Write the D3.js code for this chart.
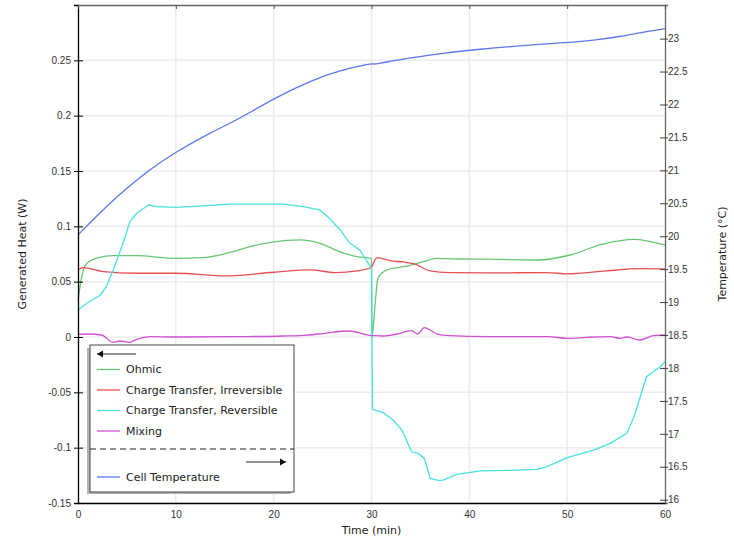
<!DOCTYPE html>
<html>
<head>
<meta charset="utf-8">
<script src="https://cdn.jsdelivr.net/npm/d3@7"></script>
<style>
  body { margin: 0; background: #fff; }
  svg { font-family: "DejaVu Sans", sans-serif; font-size: 11px; }
  .grid line { stroke: #ececec; stroke-width: 1.5; }
  .tick text { fill: #333; }
</style>
</head>
<body>
<script>
// time (min) and values
var ohmicT = [0, 0.35, 0.7, 1.5, 3.6, 6, 10, 12.8, 15.2, 17.6, 20, 22.7, 24.5, 26.8, 28.5, 30, 30.05, 30.4, 30.65, 31.6, 33.6, 35.3, 36.6, 38.7, 42, 47, 50.3, 53.7, 56.8, 60];
var ohmicV = [0.033, 0.053, 0.064, 0.070, 0.0735, 0.0735, 0.071, 0.0717, 0.0757, 0.0817, 0.086, 0.0877, 0.0853, 0.077, 0.0726, 0.0711, 0, 0.033, 0.053, 0.0606, 0.064, 0.068, 0.0711, 0.0705, 0.0703, 0.0696, 0.0741, 0.0841, 0.0883, 0.0832];

var irrevT = [0, 0.55, 2.6, 6, 10, 15.2, 20, 23.7, 26.3, 28.5, 30, 30.25, 30.6, 32, 33.3, 34.4, 36, 38, 42, 48, 50, 54, 57.4, 60];
var irrevV = [0.0606, 0.0627, 0.059, 0.0576, 0.0576, 0.0552, 0.0585, 0.0606, 0.0582, 0.0597, 0.063, 0.068, 0.0717, 0.0687, 0.0678, 0.066, 0.0597, 0.0582, 0.0579, 0.0582, 0.057, 0.0597, 0.0618, 0.0615];

var revT = [0, 0.9, 2.3, 2.9, 3.6, 4.6, 5.3, 6, 7.2, 8, 10, 12.8, 15.5, 18.2, 21, 23, 24.7, 25.7, 26.8, 27.8, 28.8, 30, 30.1, 31.2, 32.2, 33.1, 34.1, 34.8, 35.4, 36, 36.8, 37.3, 38.7, 40.1, 41.1, 44.2, 46.9, 47.9, 50, 52.7, 54.4, 56.1, 56.9, 58.1, 59.5, 60];
var revV = [0.0244, 0.0305, 0.038, 0.0455, 0.0606, 0.0847, 0.104, 0.1118, 0.1194, 0.1178, 0.1172, 0.1184, 0.12, 0.12, 0.12, 0.1178, 0.1148, 0.1073, 0.0967, 0.0847, 0.0787, 0.0621, -0.0654, -0.0684, -0.075, -0.084, -0.1037, -0.1052, -0.1097, -0.1278, -0.1296, -0.1293, -0.1242, -0.1224, -0.1209, -0.1206, -0.1197, -0.1173, -0.1091, -0.1022, -0.0961, -0.0871, -0.0705, -0.0359, -0.0268, -0.0223];

var mixT = [0, 1.2, 2.4, 3.6, 4.3, 5.3, 6, 7.4, 10, 16.2, 21, 23, 24.7, 25.7, 27.7, 29.3, 30, 30.5, 31.2, 32.6, 34.1, 34.7, 35.4, 36, 36.7, 38, 42, 48, 50, 52, 54.4, 55.4, 56.1, 57.4, 58.8, 60];
var mixV = [0.0024, 0.0027, 0.0018, -0.0048, -0.0036, -0.0048, -0.0021, 0.0003, 0, 0.0003, 0.0009, 0.0015, 0.0027, 0.0039, 0.0054, 0.0024, 0.0012, 0.0012, 0.0009, 0.0027, 0.0057, 0.0027, 0.0084, 0.0063, 0.0027, 0.0012, 0.0003, 0.0003, -0.0012, -0.0003, 0.0003, -0.0012, 0, -0.0027, 0.0012, 0.0018];

var tempT = [0, 3.2, 5.25, 7.3, 10, 13.4, 15.2, 16.8, 20.2, 24.1, 26.8, 30, 30.1, 30.5, 33.6, 37.3, 41.1, 45, 50, 53, 55.4, 57.5, 60];
var tempV = [20.02, 20.50, 20.76, 21.01, 21.28, 21.56, 21.69, 21.81, 22.11, 22.38, 22.52, 22.625, 22.612, 22.615, 22.70, 22.78, 22.84, 22.89, 22.94, 22.98, 23.03, 23.09, 23.15];

var heatTicks = [-0.15, -0.1, -0.05, 0, 0.05, 0.1, 0.15, 0.2, 0.25];
var tempTicks = [16, 16.5, 17, 17.5, 18, 18.5, 19, 19.5, 20, 20.5, 21, 21.5, 22, 22.5, 23];
var timeTicks = [0, 10, 20, 30, 40, 50, 60];

var legendNames = ["Ohmic", "Charge Transfer, Irreversible", "Charge Transfer, Reversible", "Mixing"];
var colors = ["#64c86e", "#e65050", "#46e1e1", "#d250d2"];
var tempColor = "#5a78f0";

window.onload = drawChart();

function drawChart(){

    var width = 734, height = 538;
    var left = 78, right = 665, top = 5, bottom = 503;

    var svg = d3.select("body").append("svg")
        .attr("width", width)
        .attr("height", height);

    var x = d3.scaleLinear().domain([0, 60]).range([left, right]);
    var y = d3.scaleLinear().domain([-0.15, 0.3]).range([bottom, top]);
    var y2 = d3.scaleLinear().domain([15.95, 23.51]).range([bottom, top]);

    //grid
    var grid = svg.append("g").attr("class", "grid");
    grid.selectAll(".h").data(heatTicks).enter().append("line")
        .attr("x1", left).attr("x2", right)
        .attr("y1", function(d){ return y(d); })
        .attr("y2", function(d){ return y(d); });
    grid.selectAll(".v").data(timeTicks.slice(1, -1)).enter().append("line")
        .attr("y1", top).attr("y2", bottom)
        .attr("x1", function(d){ return x(d); })
        .attr("x2", function(d){ return x(d); });

    //series (reversible kept piecewise, the others smooth)
    var series = [[ohmicT, ohmicV], [irrevT, irrevV], [revT, revV], [mixT, mixV]];
    series.forEach(function(s, i){
        var pts = s[0].map(function(t, j){ return [t, s[1][j]]; });
        svg.append("path")
            .datum(pts)
            .attr("fill", "none")
            .attr("stroke", colors[i])
            .attr("stroke-width", 1.3)
            .attr("d", d3.line()
                .curve(i == 2 ? d3.curveLinear : d3.curveMonotoneX)
                .x(function(d){ return x(d[0]); })
                .y(function(d){ return y(d[1]); }));
    });
    var tpts = tempT.map(function(t, j){ return [t, tempV[j]]; });
    svg.append("path")
        .datum(tpts)
        .attr("fill", "none")
        .attr("stroke", tempColor)
        .attr("stroke-width", 1.3)
        .attr("d", d3.line().curve(d3.curveBasis).x(function(d){ return x(d[0]); }).y(function(d){ return y2(d[1]); }));

    //axes
    var fmt = function(d){ return String(+d.toFixed(2)); };
    svg.append("g")
        .attr("transform", "translate(" + left + ",0)")
        .call(d3.axisLeft(y).tickValues(heatTicks).tickFormat(fmt).tickSize(4).tickPadding(3))
        .call(function(g){
            g.selectAll(".tick line").attr("x1", 5);
        });
    svg.append("g")
        .attr("transform", "translate(" + right + ",0)")
        .call(d3.axisRight(y2).tickValues(tempTicks).tickFormat(fmt).tickSize(3).tickPadding(0))
        .call(function(g){
            g.select(".domain").attr("stroke", "#666");
            g.selectAll(".tick line").attr("x1", -5).attr("stroke", "#444");
            g.selectAll(".tick text").attr("x", 3);
        });
    svg.append("g")
        .attr("transform", "translate(0," + bottom + ")")
        .call(d3.axisBottom(x).tickValues(timeTicks).tickSize(0).tickPadding(8));
    svg.append("g")
        .attr("transform", "translate(0," + top + ")")
        .call(d3.axisTop(x).tickValues(timeTicks).tickFormat("").tickSize(-4))
        .call(function(g){ g.select(".domain").attr("stroke", "#666"); g.selectAll(".tick line").attr("stroke", "#555"); });
    svg.selectAll(".domain").attr("stroke-width", 1.3);

    //axis titles
    svg.append("text")
        .attr("transform", "translate(26," + ((top + bottom) / 2) + ") rotate(-90)")
        .attr("text-anchor", "middle").attr("fill", "#222")
        .text("Generated Heat (W)");
    svg.append("text")
        .attr("transform", "translate(726," + ((top + bottom) / 2) + ") rotate(-90)")
        .attr("text-anchor", "middle").attr("fill", "#222")
        .text("Temperature (°C)");
    svg.append("text")
        .attr("x", (left + right) / 2).attr("y", 534)
        .attr("text-anchor", "middle").attr("fill", "#222")
        .text("Time (min)");

    //legend
    var lg = svg.append("g");
    lg.append("rect").attr("x", 87).attr("y", 348).attr("width", 204).attr("height", 146).attr("fill", "#b4b4b4");
    lg.append("rect").attr("x", 90).attr("y", 345).attr("width", 204).attr("height", 147)
        .attr("fill", "#fff").attr("stroke", "#444").attr("stroke-width", 1);

    function arrow(x1, x2, yy){
        lg.append("line").attr("x1", x1).attr("x2", x2).attr("y1", yy).attr("y2", yy)
            .attr("stroke", "#222").attr("stroke-width", 1);
        var dir = x2 > x1 ? 1 : -1;
        lg.append("path")
            .attr("d", "M" + x2 + "," + yy + "L" + (x2 - dir * 6) + "," + (yy - 3.5) + "L" + (x2 - dir * 6) + "," + (yy + 3.5) + "Z")
            .attr("fill", "#111");
    }
    arrow(136, 97, 354);

    legendNames.forEach(function(name, i){
        var yy = 369.5 + i * 20.5;
        lg.append("line").attr("x1", 97).attr("x2", 120).attr("y1", yy).attr("y2", yy)
            .attr("stroke", colors[i]).attr("stroke-width", 1.3);
        lg.append("text").attr("x", 126).attr("y", yy).attr("dy", "0.35em").attr("fill", "#222").text(name);
    });

    lg.append("line").attr("x1", 90).attr("x2", 294).attr("y1", 449).attr("y2", 449)
        .attr("stroke", "#222").attr("stroke-dasharray", "6,4");
    arrow(246, 286, 462);

    lg.append("line").attr("x1", 97).attr("x2", 120).attr("y1", 477).attr("y2", 477)
        .attr("stroke", tempColor).attr("stroke-width", 1.3);
    lg.append("text").attr("x", 126).attr("y", 477).attr("dy", "0.35em").attr("fill", "#222").text("Cell Temperature");
};
</script>
</body>
</html>
